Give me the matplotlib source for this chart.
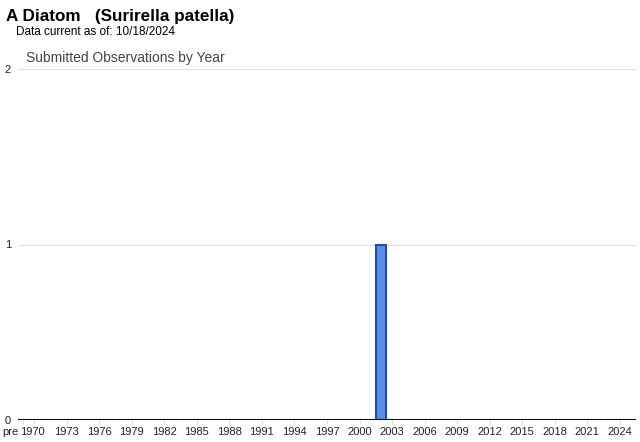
import matplotlib.pyplot as plt
import matplotlib.transforms as mtransforms

plt.rcParams['font.family'] = ['Liberation Sans', 'DejaVu Sans']

# Datos
categorias = ['pre'] + [str(a) for a in range(1970, 2026)]
observaciones = [0] * len(categorias)
observaciones[categorias.index('2002')] = 1
etiquetas = ['pre'] + [str(a) for a in range(1970, 2025, 3)]

fig = plt.figure(figsize=(6.4, 4.42), dpi=100)
ax = fig.add_axes([18 / 640, 1 - 420 / 442, 618 / 640, 351 / 442])

x = list(range(len(categorias)))
ax.bar(x, observaciones, width=0.95, color='#5a8de6', edgecolor='#1d50b0', linewidth=1.5, zorder=3)

ax.set_xlim(-0.5, len(categorias) - 0.5)
ax.set_ylim(0, 2)
ax.set_yticks([0, 1, 2])
ax.set_yticklabels(['0', '1', '2'])
ax.grid(axis='y', color='#e0e0e0', linewidth=0.8, zorder=0)
ax.axhline(0, color='black', linewidth=1.2, zorder=4)

pos = [categorias.index(e) for e in etiquetas]
ax.set_xticks(pos)
ax.set_xticklabels(etiquetas)
ax.tick_params(axis='x', length=3, color='#dddddd', labelsize=8, pad=2, labelcolor='#222222')
ax.tick_params(axis='y', length=0, labelsize=8, pad=5, labelcolor='#222222')

# desplazar etiquetas: 'pre' a la izquierda, el resto un poco
etq = ax.get_xticklabels()
etq[0].set_transform(etq[0].get_transform() + mtransforms.ScaledTranslation(-13 / 100, 0, fig.dpi_scale_trans))
etq[1].set_transform(etq[1].get_transform() + mtransforms.ScaledTranslation(-2 / 100, 0, fig.dpi_scale_trans))

for s in ax.spines.values():
    s.set_visible(False)

fig.text(6 / 640, 1 - 16 / 442, 'A Diatom   (Surirella patella)', fontsize=12.3,
         fontweight='bold', va='center', ha='left')
fig.text(16 / 640, 1 - 32 / 442, 'Data current as of: 10/18/2024', fontsize=8.5,
         va='center', ha='left')
fig.text(26 / 640, 1 - 58 / 442, 'Submitted Observations by Year', fontsize=10,
         color='#444444', va='center', ha='left')

fig.savefig('out.png', dpi=100)
